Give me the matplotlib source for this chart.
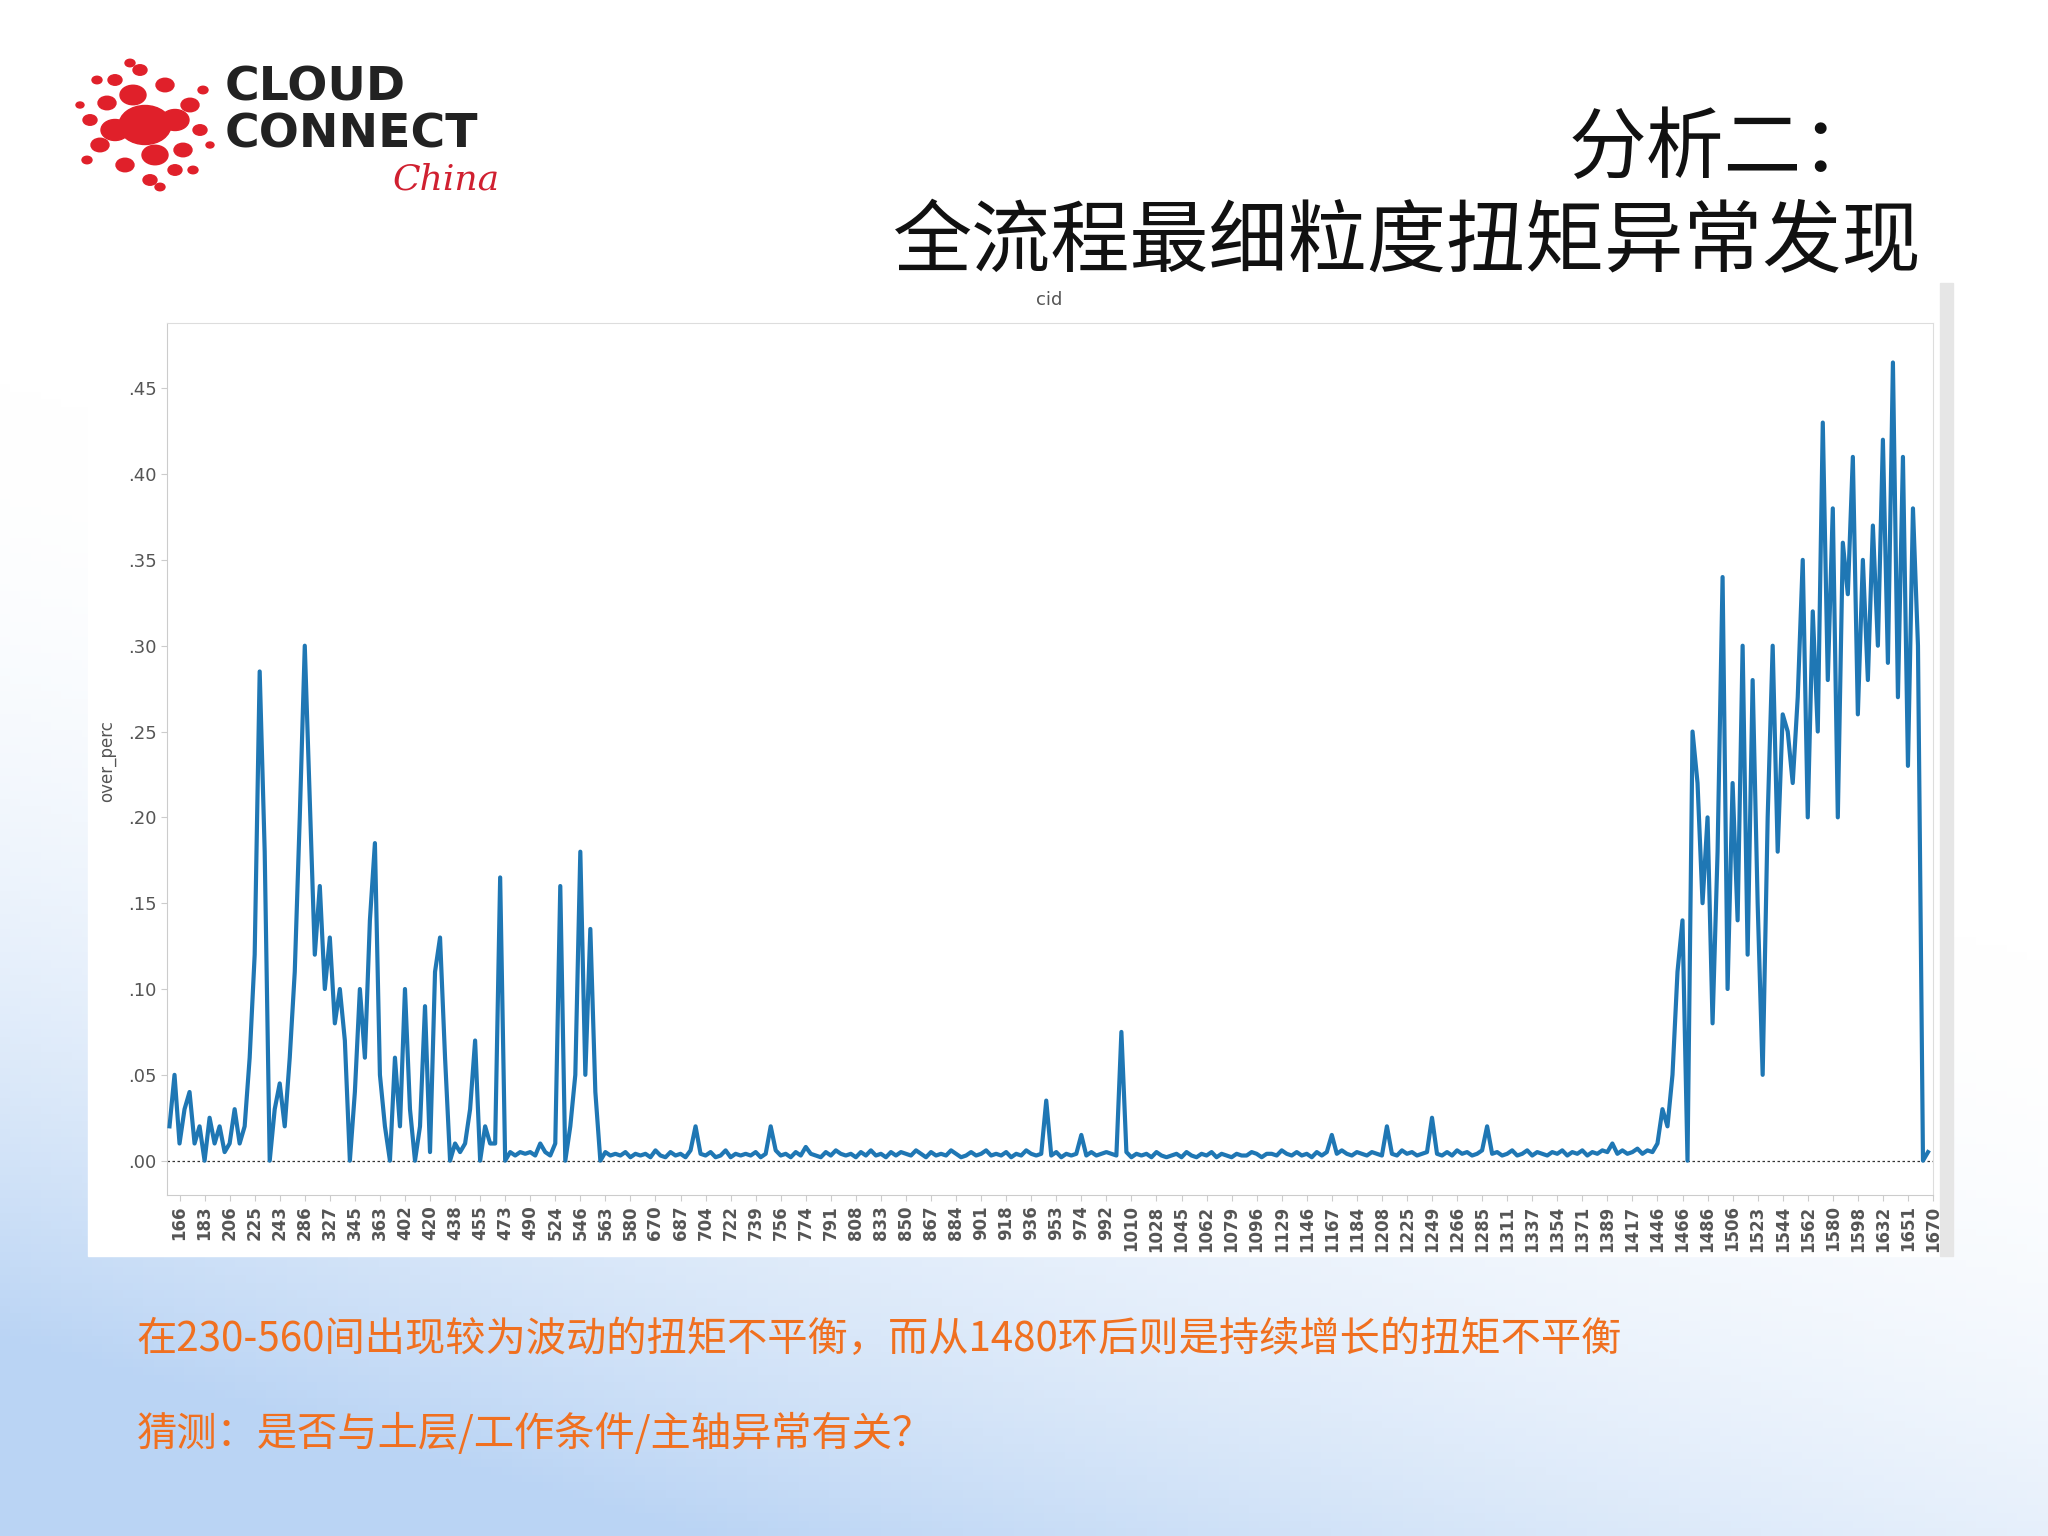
import matplotlib
matplotlib.use("Agg")
import matplotlib.pyplot as plt
import numpy as np

plt.rcParams['font.family'] = ['Noto Sans CJK SC', 'DejaVu Sans']

tick_labels = ["166","183","206","225","243","286","327","345","363","402","420","438","455","473","490",
 "524","546","563","580","670","687","704","722","739","756","774","791","808","833","850","867","884",
 "901","918","936","953","974","992","1010","1028","1045","1062","1079","1096","1129","1146","1167",
 "1184","1208","1225","1249","1266","1285","1311","1337","1354","1371","1389","1417","1446","1466",
 "1486","1506","1523","1544","1562","1580","1598","1632","1651","1670"]

over_perc = [
 .02,.05,.01,.03,.04,  .01,.02,.00,.025,.01,  .02,.005,.01,.03,.01,  .02,.06,.12,.285,.18,
 .00,.03,.045,.02,.06, .11,.20,.30,.21,.12,   .16,.10,.13,.08,.10,   .07,.00,.04,.10,.06,
 .14,.185,.05,.02,.00, .06,.02,.10,.03,.00,   .02,.09,.005,.11,.13,  .06,.00,.01,.005,.01,
 .03,.07,.00,.02,.01,  .01,.165,.00,.005,.003,.005,.004,.005,.003,.01, .005,.003,.01,.16,.00,
 .02,.05,.18,.05,.135, .04,.00,.005,.003,.004,
 .003,.005,.002,.004,.003, .004,.002,.006,.003,.002, .005,.003,.004,.002,.006, .02,.004,.003,.005,.002,
 .003,.006,.002,.004,.003, .004,.003,.005,.002,.004, .02,.006,.003,.004,.002, .005,.003,.008,.004,.003,
 .002,.005,.003,.006,.004, .003,.004,.002,.005,.003, .006,.003,.004,.002,.005, .003,.005,.004,.003,.006,
 .004,.002,.005,.003,.004, .003,.006,.004,.002,.003, .005,.003,.004,.006,.003, .004,.003,.005,.002,.004,
 .003,.006,.004,.003,.004, .035,.003,.005,.002,.004, .003,.004,.015,.003,.005, .003,.004,.005,.004,.003,
 .075,.005,.002,.004,.003, .004,.002,.005,.003,.002, .003,.004,.002,.005,.003, .002,.004,.003,.005,.002,
 .004,.003,.002,.004,.003, .003,.005,.004,.002,.004, .004,.003,.006,.004,.003, .005,.003,.004,.002,.005,
 .003,.005,.015,.004,.006, .004,.003,.005,.004,.003, .005,.004,.003,.02,.004, .003,.006,.004,.005,.003,
 .004,.005,.025,.004,.003, .005,.003,.006,.004,.005, .003,.004,.006,.02,.004, .005,.003,.004,.006,.003,
 .004,.006,.003,.005,.004, .003,.005,.004,.006,.003, .005,.004,.006,.003,.005, .004,.006,.005,.01,.004,
 .006,.004,.005,.007,.004, .006,.005,.01,.03,.02,
 .05,.11,.14,.00,.25,  .22,.15,.20,.08,.18,  .34,.10,.22,.14,.30,  .12,.28,.15,.05,.20,
 .30,.18,.26,.25,.22,  .27,.35,.20,.32,.25,  .43,.28,.38,.20,.36,  .33,.41,.26,.35,.28,
 .37,.30,.42,.29,.465, .27,.41,.23,.38,.30,.00,.005]

W, H = 2048, 1536
fig = plt.figure(figsize=(20.48, 15.36), dpi=100)

bg = fig.add_axes([0, 0, 1, 1]); bg.set_axis_off()
yy, xx = np.mgrid[0:1:200j, 0:1:200j]
grad = np.clip(1.2 - (yy * 1.6 + xx * 0.6), 0, 1) ** 2
cols = np.ones((200, 200, 3))
blue = np.array([0.55, 0.72, 0.93])
cols = cols * (1 - grad[..., None] * 0.6) + blue * grad[..., None] * 0.6
bg.imshow(cols, extent=[0, 1, 0, 1], origin='lower', aspect='auto')
bg.set_xlim(0, 1); bg.set_ylim(0, 1)

def fx(px): return px / W
def fy(py): return 1 - py / H

bg.add_patch(plt.Rectangle((fx(88), fy(1256)), fx(1953) - fx(88), fy(283) - fy(1256), color='white', zorder=2))
bg.add_patch(plt.Rectangle((fx(1940), fy(1256)), fx(13), fy(283) - fy(1256), color='#e6e6e6', zorder=3))

rng_pts = [(0,0,26),(30,-5,14),(-30,5,14),(10,30,13),(-12,-30,13),(38,25,9),(-38,-22,9),(45,-20,9),(-45,20,9),
           (20,-40,9),(-20,40,9),(55,5,7),(-55,-5,7),(30,45,7),(-30,-45,7),(5,55,7),(-5,-55,7),(58,-35,5),
           (-58,35,5),(48,45,5),(-48,-45,5),(65,20,4),(-65,-20,4),(15,62,5),(-15,-62,5)]
for dx, dy, r in rng_pts:
    bg.add_patch(plt.Circle((fx(145 + dx), fy(125 + dy)), r / W, color='#e0202a', zorder=3))
bg.text(fx(225), fy(88), "CLOUD", fontsize=34, fontweight='bold', color='#222222', va='center', zorder=3, family='DejaVu Sans')
bg.text(fx(225), fy(135), "CONNECT", fontsize=34, fontweight='bold', color='#222222', va='center', zorder=3, family='DejaVu Sans')
bg.text(fx(500), fy(180), "China", fontsize=26, style='italic', color='#d02030', va='center', ha='right', zorder=3, family='DejaVu Serif')

fig.text(fx(1880), fy(150), "分析二：", fontsize=56, ha='right', va='center', color='#111111')
fig.text(fx(1922), fy(244), "全流程最细粒度扭矩异常发现", fontsize=57, ha='right', va='center', color='#111111')

ax = fig.add_axes([fx(167), fy(1195), fx(1933) - fx(167), fy(323) - fy(1195)])
x = np.arange(len(over_perc))
ax.plot(x, over_perc, color='#1f77b4', lw=3, zorder=3)
ax.axhline(0, color='#333333', lw=0.9, ls=(0, (2, 2)), zorder=2)
n = len(over_perc)
ax.set_xlim(-0.5, n - 0.5)
ax.set_ylim(-0.02, 0.488)
ticks = np.arange(len(tick_labels)) * 5 + 2
ax.set_xticks(ticks)
ax.set_xticklabels(tick_labels, rotation=90, fontsize=12, fontweight='bold', color='#555555', family='DejaVu Sans')
yt = [0, .05, .10, .15, .20, .25, .30, .35, .40, .45]
ax.set_yticks(yt)
ax.set_yticklabels([f"{v:.2f}"[1:] for v in yt], fontsize=13, color='#555555', family='DejaVu Sans')
for s in ['top', 'right']:
    ax.spines[s].set_color('#dddddd')
for s in ['left', 'bottom']:
    ax.spines[s].set_color('#cccccc')
ax.tick_params(length=4, color='#cccccc')
ax.set_facecolor('white')
fig.text(fx(1049), fy(300), "cid", fontsize=13, ha='center', va='center', color='#555555', family='DejaVu Sans')
fig.text(fx(107), fy(761), "over_perc", fontsize=12, rotation=90, ha='center', va='center', color='#555555', family='DejaVu Sans')

fig.text(fx(137), fy(1339), "在230-560间出现较为波动的扭矩不平衡，而从1480环后则是持续增长的扭矩不平衡",
         fontsize=29, color='#f07020', va='center')
fig.text(fx(137), fy(1434), "猜测：是否与土层/工作条件/主轴异常有关？", fontsize=29, color='#f07020', va='center')

fig.savefig("out.png", dpi=100)
